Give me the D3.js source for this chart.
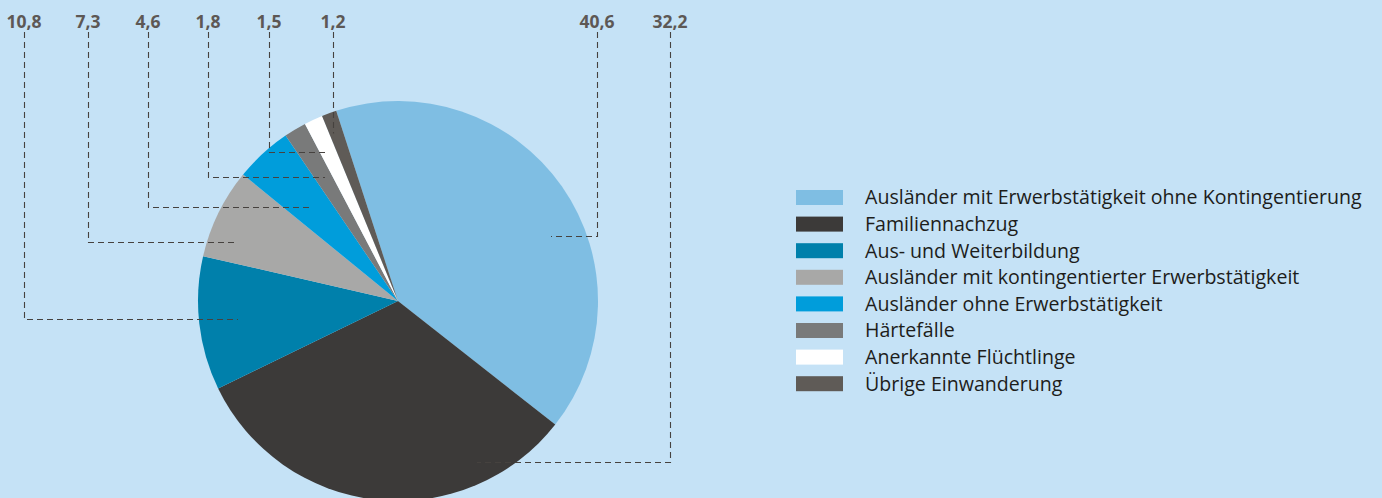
<!DOCTYPE html>
<html>
<head>
<meta charset="utf-8">
<script src="https://cdn.jsdelivr.net/npm/d3@7/dist/d3.min.js"></script>
<style>
  html, body { margin: 0; padding: 0; background: #c5e2f6; }
  svg { display: block; }
</style>
</head>
<body>
<svg id="chart" width="1382" height="498"></svg>
<script>
// Zuwanderung nach Kategorie, Anteile in Prozent
const categories = [
  "Ausländer mit Erwerbstätigkeit ohne Kontingentierung",
  "Familiennachzug",
  "Aus- und Weiterbildung",
  "Ausländer mit kontingentierter Erwerbstätigkeit",
  "Ausländer ohne Erwerbstätigkeit",
  "Härtefälle",
  "Anerkannte Flüchtlinge",
  "Übrige Einwanderung"
];
const shares = [40.6, 32.2, 10.8, 7.3, 4.6, 1.8, 1.5, 1.2];
const valueLabels = ["40,6", "32,2", "10,8", "7,3", "4,6", "1,8", "1,5", "1,2"];
const colors = ["#7fbee3", "#3c3a39", "#0080ab", "#a8a8a7", "#009ddb", "#797a7a", "#ffffff", "#5f5b57"];

// Leader line layout per slice: label x, elbow y, end x of the horizontal run
const leaderLayout = [
  { labelX: 597, elbowY: 236, endX: 551 },
  { labelX: 670, elbowY: 462, endX: 477 },
  { labelX: 24,  elbowY: 319, endX: 238 },
  { labelX: 88,  elbowY: 242, endX: 235 },
  { labelX: 148, elbowY: 207, endX: 310 },
  { labelX: 208, elbowY: 177, endX: 325 },
  { labelX: 269, elbowY: 152, endX: 327 },
  { labelX: 333, elbowY: 133, endX: 333 }
];

const svg = d3.select("#chart");
const cx = 398, cy = 301, radius = 200;
const startAngle = -18 * Math.PI / 180;

const pie = d3.pie().sort(null).value(d => d)
  .startAngle(startAngle).endAngle(startAngle + 2 * Math.PI);
const arc = d3.arc().innerRadius(0).outerRadius(radius);
const color = d3.scaleOrdinal().domain(categories).range(colors);

const arcs = pie(shares);

svg.append("g")
  .attr("transform", `translate(${cx},${cy})`)
  .selectAll("path")
  .data(arcs)
  .join("path")
  .attr("d", arc)
  .attr("fill", (d, i) => color(categories[i]));

// leader lines
const labelBaseline = 28;
const leaders = svg.append("g")
  .attr("fill", "none")
  .attr("stroke", "#46423f")
  .attr("stroke-width", 1.1)
  .attr("stroke-dasharray", "6,4");

leaderLayout.forEach((l, i) => {
  const pts = [[l.labelX + 0.5, labelBaseline + 4], [l.labelX + 0.5, l.elbowY + 0.5]];
  if (l.endX !== l.labelX) pts.push([l.endX, l.elbowY + 0.5]);
  leaders.append("path").attr("d", d3.line()(pts));
});

// value labels
svg.append("g")
  .selectAll("text")
  .data(leaderLayout)
  .join("text")
  .attr("x", d => d.labelX)
  .attr("y", labelBaseline)
  .attr("text-anchor", "middle")
  .attr("font-family", "'Open Sans', 'Noto Sans', sans-serif")
  .attr("font-weight", 700)
  .attr("font-size", 17.5)
  .attr("fill", "#5d5855")
  .text((d, i) => valueLabels[i]);

// legend
const legendX = 796, legendY = 190, rowH = 26.6;
const legend = svg.append("g").attr("transform", `translate(${legendX},${legendY})`);
const rows = legend.selectAll("g")
  .data(categories)
  .join("g")
  .attr("transform", (d, i) => `translate(0,${i * rowH})`);

rows.append("rect")
  .attr("width", 47)
  .attr("height", 15)
  .attr("fill", d => color(d));

rows.append("text")
  .attr("x", 69)
  .attr("y", 7.5)
  .attr("dy", "0.35em")
  .attr("font-family", "'Open Sans', 'Noto Sans', sans-serif")
  .attr("font-weight", 400)
  .attr("font-size", 17)
  .attr("fill", "#1d1d1b")
  .text(d => d);

// fit the longest entry to its measured span
const longest = rows.select("text").nodes()[0];
const w = longest.getComputedTextLength();
const fs = 17 * 497 / w;
rows.select("text").attr("font-size", fs);
</script>
</body>
</html>
